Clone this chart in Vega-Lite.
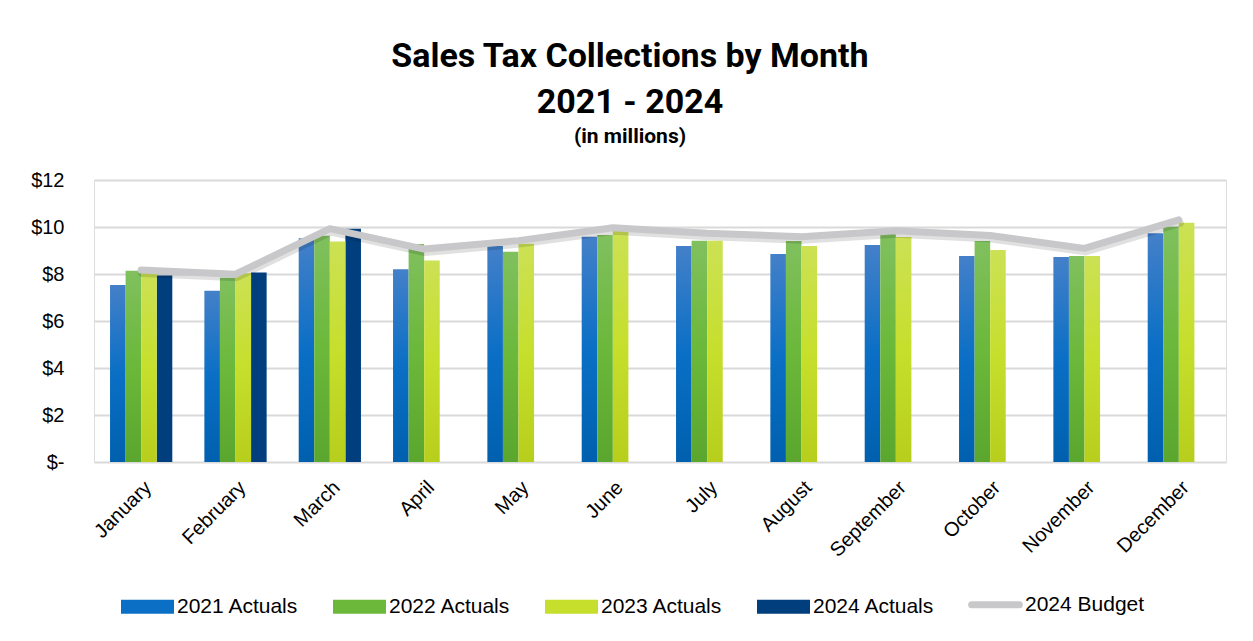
{
  "$schema": "https://vega.github.io/schema/vega-lite/v6.json",
  "autosize": {"type": "none"},
  "width": 1132,
  "height": 282,
  "padding": {"left": 94, "top": 180, "right": 27, "bottom": 179},
  "background": "white",
  "title": {
    "text": ["Sales Tax Collections by Month", "2021 - 2024"],
    "subtitle": "(in millions)",
    "font": "Roboto, Liberation Sans, sans-serif",
    "fontSize": 34,
    "fontWeight": "bold",
    "lineHeight": 46,
    "color": "#000000",
    "subtitleFont": "Roboto, Liberation Sans, sans-serif",
    "subtitleFontSize": 21,
    "subtitleFontWeight": "bold",
    "subtitleColor": "#000000",
    "subtitlePadding": 6,
    "anchor": "middle",
    "frame": "group",
    "dx": -30,
    "offset": 23
  },
  "data": {
    "values": [
      {"month": "January", "series": "2021 Actuals", "value": 7.53},
      {"month": "January", "series": "2022 Actuals", "value": 8.14},
      {"month": "January", "series": "2023 Actuals", "value": 8.05},
      {"month": "January", "series": "2024 Actuals", "value": 7.94},
      {"month": "January", "series": "2024 Budget", "value": 8.17},
      {"month": "February", "series": "2021 Actuals", "value": 7.29},
      {"month": "February", "series": "2022 Actuals", "value": 7.84},
      {"month": "February", "series": "2023 Actuals", "value": 8.03},
      {"month": "February", "series": "2024 Actuals", "value": 8.06},
      {"month": "February", "series": "2024 Budget", "value": 7.99},
      {"month": "March", "series": "2021 Actuals", "value": 9.52},
      {"month": "March", "series": "2022 Actuals", "value": 9.63},
      {"month": "March", "series": "2023 Actuals", "value": 9.38},
      {"month": "March", "series": "2024 Actuals", "value": 9.93},
      {"month": "March", "series": "2024 Budget", "value": 9.93},
      {"month": "April", "series": "2021 Actuals", "value": 8.2},
      {"month": "April", "series": "2022 Actuals", "value": 9.28},
      {"month": "April", "series": "2023 Actuals", "value": 8.57},
      {"month": "April", "series": "2024 Budget", "value": 9.06},
      {"month": "May", "series": "2021 Actuals", "value": 9.19},
      {"month": "May", "series": "2022 Actuals", "value": 8.95},
      {"month": "May", "series": "2023 Actuals", "value": 9.29},
      {"month": "May", "series": "2024 Budget", "value": 9.42},
      {"month": "June", "series": "2021 Actuals", "value": 9.59},
      {"month": "June", "series": "2022 Actuals", "value": 9.66},
      {"month": "June", "series": "2023 Actuals", "value": 9.83},
      {"month": "June", "series": "2024 Budget", "value": 9.97},
      {"month": "July", "series": "2021 Actuals", "value": 9.19},
      {"month": "July", "series": "2022 Actuals", "value": 9.42},
      {"month": "July", "series": "2023 Actuals", "value": 9.42},
      {"month": "July", "series": "2024 Budget", "value": 9.73},
      {"month": "August", "series": "2021 Actuals", "value": 8.85},
      {"month": "August", "series": "2022 Actuals", "value": 9.4},
      {"month": "August", "series": "2023 Actuals", "value": 9.19},
      {"month": "August", "series": "2024 Budget", "value": 9.59},
      {"month": "September", "series": "2021 Actuals", "value": 9.23},
      {"month": "September", "series": "2022 Actuals", "value": 9.7},
      {"month": "September", "series": "2023 Actuals", "value": 9.57},
      {"month": "September", "series": "2024 Budget", "value": 9.84},
      {"month": "October", "series": "2021 Actuals", "value": 8.77},
      {"month": "October", "series": "2022 Actuals", "value": 9.4},
      {"month": "October", "series": "2023 Actuals", "value": 9.02},
      {"month": "October", "series": "2024 Budget", "value": 9.64},
      {"month": "November", "series": "2021 Actuals", "value": 8.72},
      {"month": "November", "series": "2022 Actuals", "value": 8.77},
      {"month": "November", "series": "2023 Actuals", "value": 8.77},
      {"month": "November", "series": "2024 Budget", "value": 9.09},
      {"month": "December", "series": "2021 Actuals", "value": 9.73},
      {"month": "December", "series": "2022 Actuals", "value": 10.01},
      {"month": "December", "series": "2023 Actuals", "value": 10.18},
      {"month": "December", "series": "2024 Budget", "value": 10.3}
    ]
  },
  "encoding": {
    "x": {
      "field": "month",
      "type": "nominal",
      "sort": ["January", "February", "March", "April", "May", "June", "July", "August", "September", "October", "November", "December"],
      "scale": {"paddingInner": 0.34, "paddingOuter": 0.17},
      "axis": {
        "title": null,
        "labelAngle": -45,
        "labelFont": "Liberation Sans, Arial, sans-serif",
        "labelFontSize": 20,
        "labelColor": "#000000",
        "labelPadding": 15,
        "ticks": false,
        "domain": false
      }
    },
    "y": {
      "field": "value",
      "type": "quantitative",
      "scale": {"domain": [0, 12], "nice": false},
      "axis": {
        "title": null,
        "values": [0, 2, 4, 6, 8, 10, 12],
        "labelExpr": "datum.value === 0 ? '$-\u00a0\u00a0' : '$' + datum.value",
        "labelFont": "Liberation Sans, Arial, sans-serif",
        "labelFontSize": 20,
        "labelColor": "#000000",
        "labelPadding": 30,
        "ticks": false,
        "domain": false,
        "grid": true,
        "gridColor": "#D9D9D9",
        "gridWidth": 2
      }
    }
  },
  "layer": [
    {
      "transform": [{"filter": "datum.series === '2024 Actuals'"}],
      "mark": {"type": "bar"},
      "encoding": {
        "xOffset": {
          "field": "series",
          "type": "nominal",
          "scale": {"domain": ["2021 Actuals", "2022 Actuals", "2023 Actuals", "2024 Actuals"], "paddingInner": 0, "paddingOuter": 0}
        },
        "color": {
          "field": "series",
          "type": "nominal",
          "scale": {
            "domain": ["2021 Actuals", "2022 Actuals", "2023 Actuals", "2024 Actuals", "2024 Budget"],
            "range": ["#0A6FC5", "#6BB83A", "#C6DF2C", "#003E7E", "#C8C8CA"]
          },
          "legend": {
            "title": null,
            "orient": "none",
            "legendX": 43,
            "legendY": 414,
            "direction": "horizontal",
            "labelFont": "Liberation Sans, Arial, sans-serif",
            "labelFontSize": 21,
            "labelColor": "#000000",
            "labelOffset": 19,
            "symbolSize": 2809,
            "columnPadding": 22,
            "gridAlign": "all",
            "encode": {
              "symbols": {
                "update": {
                  "shape": {"signal": "datum.value === '2024 Budget' ? 'M-0.9,0H0.9' : 'M-1,-0.264H1V0.264H-1Z'"},
                  "fill": {"signal": "datum.value === '2024 Budget' ? 'transparent' : scale('color', datum.value)"},
                  "stroke": {"signal": "datum.value === '2024 Budget' ? '#C8C8CA' : 'transparent'"},
                  "strokeWidth": {"signal": "datum.value === '2024 Budget' ? 7 : 0"},
                  "strokeCap": {"value": "round"},
                  "opacity": {"value": 1}
                }
              }
            }
          }
        }
      }
    },
    {
      "transform": [{"filter": "datum.series === '2021 Actuals'"}],
      "mark": {"type": "bar", "color": {"gradient": "linear", "x1": 0, "y1": 0, "x2": 0, "y2": 1, "stops": [{"offset": 0, "color": "#4480C9"}, {"offset": 0.5, "color": "#0A6FC5"}, {"offset": 1, "color": "#0060AE"}]}},
      "encoding": {
        "xOffset": {"field": "series", "type": "nominal", "scale": {"domain": ["2021 Actuals", "2022 Actuals", "2023 Actuals", "2024 Actuals"], "paddingInner": 0, "paddingOuter": 0}}
      }
    },
    {
      "transform": [{"filter": "datum.series === '2022 Actuals'"}],
      "mark": {"type": "bar", "color": {"gradient": "linear", "x1": 0, "y1": 0, "x2": 0, "y2": 1, "stops": [{"offset": 0, "color": "#80C05E"}, {"offset": 0.5, "color": "#6BB83A"}, {"offset": 1, "color": "#5BA62E"}]}},
      "encoding": {
        "xOffset": {"field": "series", "type": "nominal", "scale": {"domain": ["2021 Actuals", "2022 Actuals", "2023 Actuals", "2024 Actuals"], "paddingInner": 0, "paddingOuter": 0}}
      }
    },
    {
      "transform": [{"filter": "datum.series === '2023 Actuals'"}],
      "mark": {"type": "bar", "color": {"gradient": "linear", "x1": 0, "y1": 0, "x2": 0, "y2": 1, "stops": [{"offset": 0, "color": "#CCE154"}, {"offset": 0.5, "color": "#C6DF2C"}, {"offset": 1, "color": "#B7CF1C"}]}},
      "encoding": {
        "xOffset": {"field": "series", "type": "nominal", "scale": {"domain": ["2021 Actuals", "2022 Actuals", "2023 Actuals", "2024 Actuals"], "paddingInner": 0, "paddingOuter": 0}}
      }
    },
    {
      "transform": [{"filter": "datum.series === '2024 Budget'"}],
      "mark": {"type": "line", "color": "#000000", "opacity": 0.12, "strokeWidth": 8, "yOffset": 3, "xOffset": 1, "strokeJoin": "round", "strokeCap": "round"},
      "encoding": {}
    },
    {
      "transform": [{"filter": "datum.series === '2024 Budget'"}],
      "mark": {"type": "line", "strokeWidth": 7, "strokeJoin": "round", "strokeCap": "round"},
      "encoding": {
        "color": {"field": "series", "type": "nominal"}
      }
    }
  ]
}
